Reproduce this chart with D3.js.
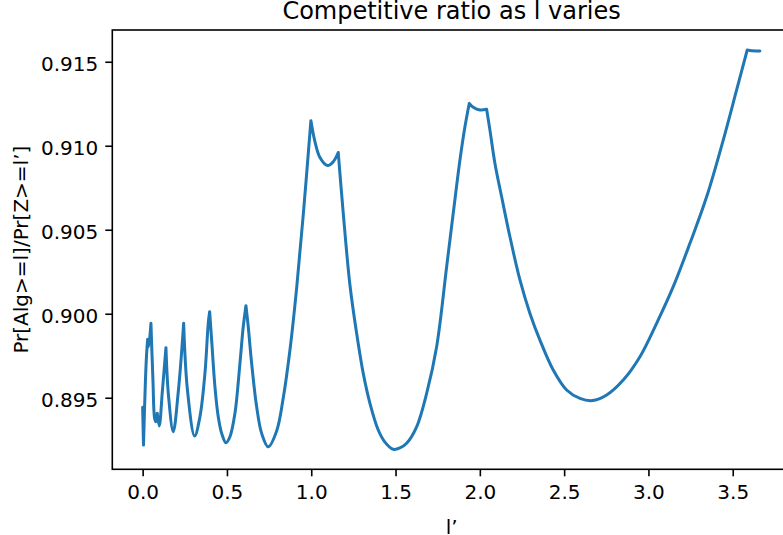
<!DOCTYPE html>
<html>
<head>
<meta charset="utf-8">
<script src="https://cdn.jsdelivr.net/npm/d3@7"></script>
<style>
  html, body { margin: 0; padding: 0; background: #fff; }
  svg { display: block; font-family: "DejaVu Sans", sans-serif; }
</style>
</head>
<body>
<svg id="chart" width="783" height="535"></svg>
<script>
// ---- data ----
const xValues = [
  0.000, 0.005, 0.0166, 0.0237, 0.0297, 0.0356, 0.0492, 0.0611, 0.0712, 0.0789,
  0.0866, 0.0985, 0.1174, 0.1382, 0.153, 0.1815, 0.2123, 0.2432, 0.2657, 0.3084,
  0.3399, 0.3695, 0.3891, 0.3974, 0.4093, 0.4288, 0.4484, 0.4686, 0.4941, 0.5178,
  0.5474, 0.5771, 0.5967, 0.6127, 0.6263, 0.6465, 0.6762, 0.7058, 0.7450, 0.7948,
  0.8339, 0.8737, 0.9134, 0.9526, 0.998, 1.0219, 1.0516, 1.0973, 1.1305, 1.160,
  1.1898, 1.2295, 1.2693, 1.3084, 1.3482, 1.3974, 1.4371, 1.4864, 1.526, 1.5658,
  1.6251, 1.6845, 1.7438, 1.8031, 1.8422, 1.8820, 1.9116, 1.9371, 1.9609, 2.0006,
  2.0403, 2.0599, 2.0896, 2.1293, 2.1785, 2.2379, 2.2972, 2.3565, 2.4353, 2.5148,
  2.5937, 2.6679, 2.7521, 2.8505, 2.9496, 3.0486, 3.1471, 3.2461, 3.3452, 3.4437,
  3.5231, 3.5860, 3.6020, 3.6613
];
const ratioValues = [
  0.89443, 0.89218, 0.89605, 0.89764, 0.89848, 0.89804, 0.89943, 0.89605, 0.89377, 0.89357,
  0.89407, 0.89332, 0.89546, 0.89798, 0.89516, 0.89298, 0.89546, 0.89943, 0.89546, 0.89272,
  0.89387, 0.89645, 0.89943, 0.90012, 0.89843, 0.89565, 0.89387, 0.89288, 0.89232, 0.89268,
  0.89407, 0.89705, 0.89923, 0.90048, 0.89923, 0.89705, 0.89446, 0.89288, 0.89208, 0.89302,
  0.89498, 0.89784, 0.90153, 0.90588, 0.91149, 0.91025, 0.90930, 0.90882, 0.90905, 0.90960,
  0.90599, 0.90171, 0.89883, 0.89645, 0.89467, 0.89308, 0.89236, 0.89193, 0.89201, 0.89229,
  0.89327, 0.89526, 0.89804, 0.90280, 0.90598, 0.90915, 0.91113, 0.91252, 0.91229, 0.91213,
  0.91217, 0.91093, 0.90895, 0.90696, 0.90458, 0.90201, 0.90002, 0.89843, 0.89665, 0.89546,
  0.89496, 0.89483, 0.89516, 0.89605, 0.89744, 0.89943, 0.90161, 0.90419, 0.90696, 0.91034,
  0.91332, 0.91570, 0.91567, 0.91564
];
// sharp corners (cusps) of the curve
const cuspX = [0.005, 0.0297, 0.0492, 0.0866, 0.1382, 0.2432, 0.3974, 0.6127, 0.998, 1.160, 1.9371, 2.0403, 3.5860];
const xTicks = [0.0, 0.5, 1.0, 1.5, 2.0, 2.5, 3.0, 3.5];
const yTicks = [0.895, 0.900, 0.905, 0.910, 0.915];
const titleText = "Competitive ratio as l varies";
const xLabelText = "l\u2019";
const yLabelText = "Pr[Alg>=l]/Pr[Z>=l\u2019]";

// ---- layout ----
const plot = { left: 112.3, right: 790.9, top: 30, bottom: 469.3 };
const svg = d3.select("#chart");

const x = d3.scaleLinear().domain([-0.18, 3.845]).range([plot.left, plot.right]);
const y = d3.scaleLinear().domain([0.89074, 0.91689]).range([plot.bottom, plot.top]);

const points = xValues.map((v, i) => [v, ratioValues[i]]);

// split into smooth pieces between cusps
const segments = [];
let cur = [];
points.forEach(p => {
  cur.push(p);
  if (cuspX.includes(p[0])) { segments.push(cur); cur = [p]; }
});
if (cur.length > 1) segments.push(cur);

const line = d3.line().x(d => x(d[0])).y(d => y(d[1])).curve(d3.curveCatmullRom.alpha(0.5));
const pathD = segments.map(s => line(s)).join("");
svg.append("path")
  .attr("d", pathD)
  .attr("fill", "none")
  .attr("stroke", "#1f77b4")
  .attr("stroke-width", 3)
  .attr("stroke-linejoin", "round")
  .attr("stroke-linecap", "round");

// axes
const xAxis = d3.axisBottom(x).tickValues(xTicks).tickFormat(d3.format(".1f"))
  .tickSize(7).tickSizeOuter(0).tickPadding(7);
const gx = svg.append("g").attr("transform", `translate(0,${plot.bottom})`).call(xAxis);
gx.select(".domain").remove();
gx.selectAll(".tick line").attr("stroke", "#000").attr("stroke-width", 1.6);
gx.selectAll(".tick text").attr("font-size", 20).attr("fill", "#000")
  .attr("font-family", "DejaVu Sans").attr("y", 14).attr("dy", "16px");

const yAxis = d3.axisLeft(y).tickValues(yTicks).tickFormat(d3.format(".3f"))
  .tickSize(7).tickSizeOuter(0).tickPadding(7);
const gy = svg.append("g").attr("transform", `translate(${plot.left},0)`).call(yAxis);
gy.select(".domain").remove();
gy.selectAll(".tick line").attr("stroke", "#000").attr("stroke-width", 1.6);
gy.selectAll(".tick text").attr("font-size", 20).attr("fill", "#000")
  .attr("font-family", "DejaVu Sans").attr("dy", "8.5px");

// spines
svg.append("rect")
  .attr("x", plot.left).attr("y", plot.top)
  .attr("width", plot.right - plot.left).attr("height", plot.bottom - plot.top)
  .attr("fill", "none").attr("stroke", "#000").attr("stroke-width", 1.6);

// title
svg.append("text")
  .attr("x", (plot.left + plot.right) / 2).attr("y", 18.8)
  .attr("text-anchor", "middle").attr("font-size", 24).attr("fill", "#000")
  .text(titleText);

// x label
svg.append("text")
  .attr("x", (plot.left + plot.right) / 2).attr("y", 533.5)
  .attr("text-anchor", "middle").attr("font-size", 20).attr("fill", "#000")
  .text(xLabelText);

// y label
svg.append("text")
  .attr("transform", `translate(28.3,${(plot.top + plot.bottom) / 2}) rotate(-90)`)
  .attr("text-anchor", "middle").attr("font-size", 20).attr("fill", "#000")
  .text(yLabelText);
</script>
</body>
</html>
